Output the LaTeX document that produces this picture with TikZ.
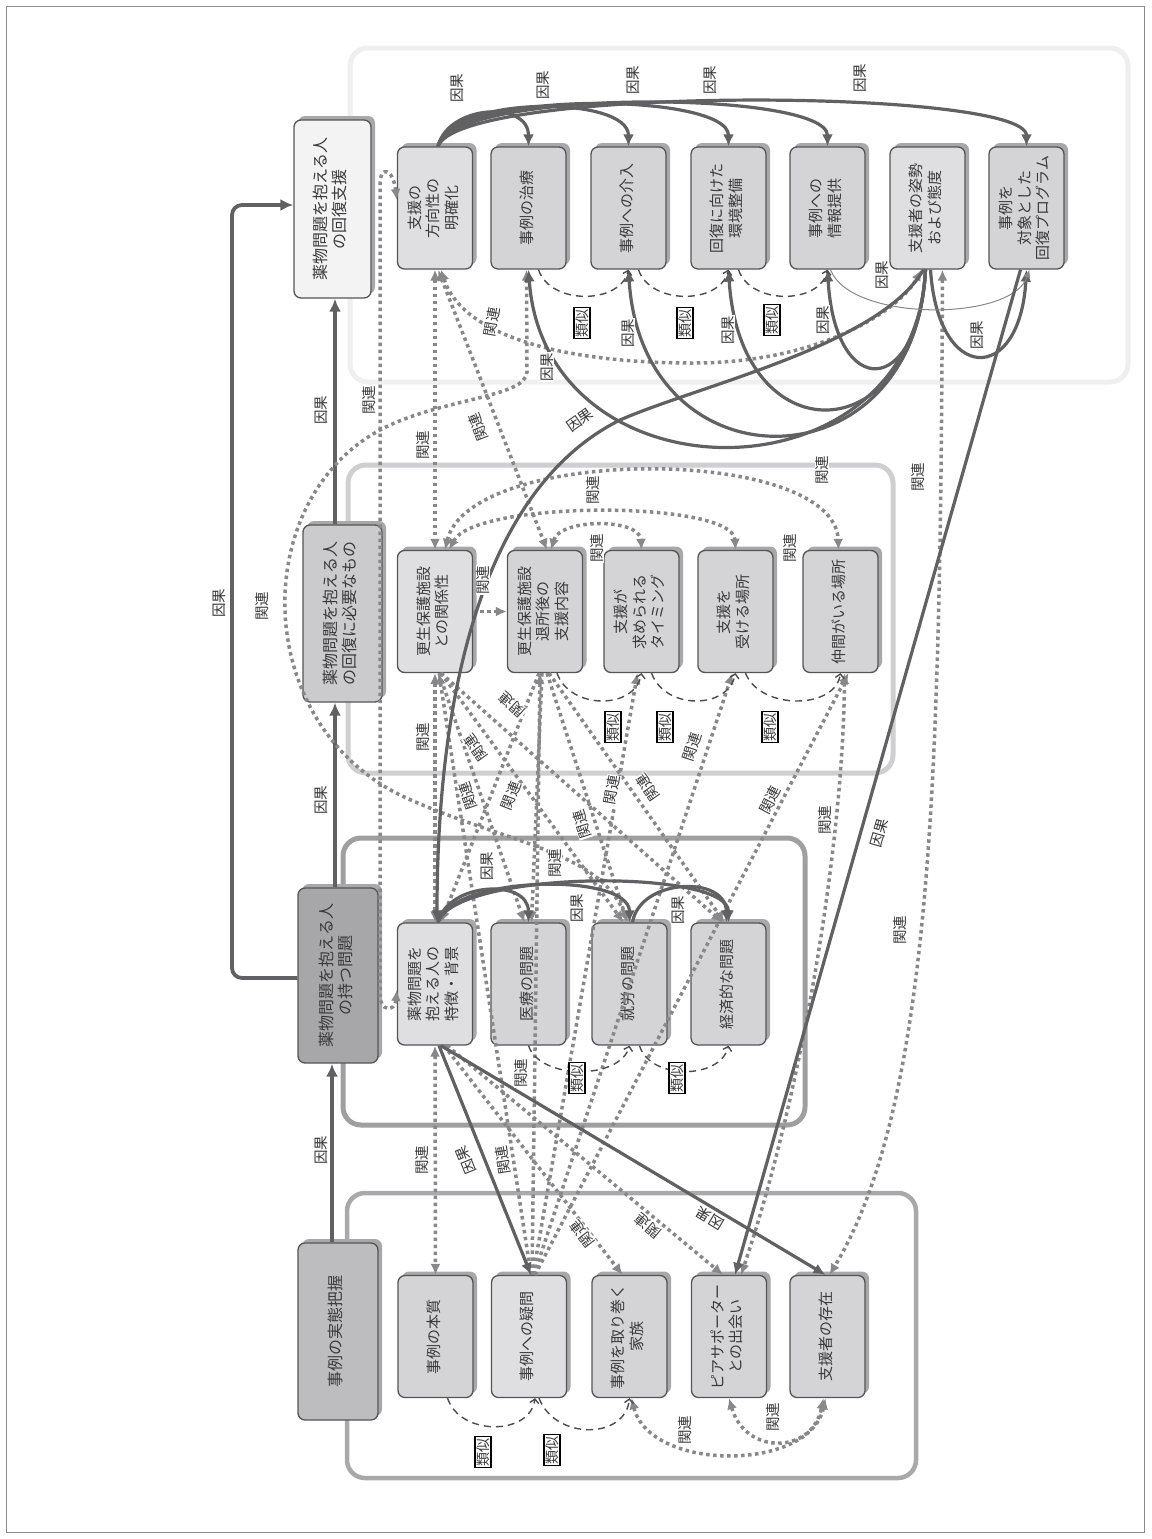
\documentclass[tikz,border=0pt]{standalone}
\usepackage{fontspec}
\setmainfont{Noto Sans CJK JP}
\usepackage{graphicx}
\usetikzlibrary{arrows.meta,shadows}
\definecolor{boxline}{HTML}{555557}
\definecolor{fillA}{HTML}{D4D4D6}
\definecolor{fillB}{HTML}{DFDFE1}
\definecolor{shade}{HTML}{A8A8AA}
\definecolor{txt}{HTML}{3A3A3C}
\definecolor{causec}{HTML}{616163}
\definecolor{relc}{HTML}{88888A}
\definecolor{simc}{HTML}{4C4C4E}
\definecolor{gonec}{HTML}{A9A9AB}
\definecolor{gtwoc}{HTML}{9F9FA1}
\definecolor{gthreec}{HTML}{CFCFD1}
\definecolor{gfourc}{HTML}{EFEFF0}
\definecolor{monef}{HTML}{BDBDBF}
\definecolor{mtwof}{HTML}{A7A7A9}
\definecolor{mthreef}{HTML}{CBCBCD}
\definecolor{mfourf}{HTML}{F3F3F3}
\definecolor{framec}{HTML}{8A8A8A}
\newcommand{\vt}[1]{\rotatebox{90}{\begin{tabular}{@{}c@{}}#1\end{tabular}}}
\begin{document}
\begin{tikzpicture}[x=1pt,y=1pt,
 box/.style={draw=boxline,line width=1.3pt,rounded corners=7pt,fill=fillA,minimum width=75pt,minimum height=122pt,inner sep=0pt,text=txt,font=\fontsize{15}{18.5}\selectfont,drop shadow={shadow xshift=4pt,shadow yshift=4pt,opacity=1,fill=shade}},
 mbox/.style={box,minimum width=80pt,minimum height=177pt,font=\fontsize{16}{19}\selectfont},
 lab/.style={font=\fontsize{14.5}{15}\selectfont,text=txt,inner sep=0.6pt,fill=white},
 labv/.style={lab,rotate=90},
 simlab/.style={draw=black,line width=1.2pt,fill=white,inner sep=1.6pt,font=\fontsize{14}{14}\selectfont,text=txt,rotate=90},
 cause/.style={draw=causec,line width=3.2pt,-{Latex[length=12pt,width=11pt]}},
 thincause/.style={draw=causec!75,line width=1pt,-{Latex[length=8pt,width=7pt]}},
 mainarrow/.style={draw=causec,line width=3.8pt,-{Latex[length=13pt,width=12pt]}},
 rel/.style={draw=relc,line width=3.5pt,dash pattern=on 3.5pt off 3.5pt,{Latex[length=11pt,width=10pt]}-{Latex[length=11pt,width=10pt]}},
 relend/.style={draw=relc,line width=3.5pt,dash pattern=on 3.5pt off 3.5pt,-{Latex[length=11pt,width=10pt]}},
 simarc/.style={draw=simc,line width=1.4pt,dash pattern=on 7pt off 5pt,-{Straight Barb[length=4pt,width=9pt]}},
 grp/.style={rounded corners=18pt,line width=5pt}
]
\useasboundingbox (0,0) rectangle (1151,-1539);
\fill[white] (0,0) rectangle (1151,-1539);
\draw[framec,line width=0.8pt] (6.5,-6.5) rectangle (1144.5,-1532.5);

% group frames
\draw[grp,gfourc] (350,-48) rectangle (1128,-382);
\draw[grp,gthreec] (348,-465) rectangle (893,-773);
\draw[grp,gtwoc] (343,-838) rectangle (805,-1125);
\draw[grp,gonec,line width=4.5pt] (347,-1193) rectangle (916,-1478);

% main boxes
\node[mbox,fill=monef] (M1) at (338,-1331.5) {\vt{事例の実態把握}};
\node[mbox,fill=mtwof,minimum height=175pt] (M2) at (338,-975.5) {\vt{薬物問題を抱える人\\の持つ問題}};
\node[mbox,fill=mthreef,minimum width=79pt] (M3) at (342.5,-613.5) {\vt{薬物問題を抱える人\\の回復に必要なもの}};
\node[mbox,fill=mfourf,minimum width=77pt,minimum height=178pt] (M4) at (332.5,-209) {\vt{薬物問題を抱える人\\の回復支援}};

% group 1
\node[box] (a1) at (435.5,-1336.5) {\vt{事例の本質}};
\node[box,fill=fillB] (a2) at (529,-1336.5) {\vt{事例への疑問}};
\node[box] (a3) at (629.5,-1336.5) {\vt{事例を取り巻く\\家族}};
\node[box] (a4) at (729,-1336.5) {\vt{ピアサポーター\\との出会い}};
\node[box] (a5) at (827.5,-1336.5) {\vt{支援者の存在}};
% group 2
\node[box,fill=fillB] (b1) at (435,-984) {\vt{薬物問題を\\抱える人の\\特徴・背景}};
\node[box] (b2) at (528.5,-984) {\vt{医療の問題}};
\node[box] (b3) at (629.5,-984) {\vt{就労の問題}};
\node[box] (b4) at (728.5,-984) {\vt{経済的な問題}};
% group 3
\node[box,fill=fillB] (c1) at (435,-611.5) {\vt{更生保護施設\\との関係性}};
\node[box] (c2) at (545,-611.5) {\vt{更生保護施設\\退所後の\\支援内容}};
\node[box] (c3) at (641.5,-611.5) {\vt{支援が\\求められる\\タイミング}};
\node[box] (c4) at (735.5,-611.5) {\vt{支援を\\受ける場所}};
\node[box] (c5) at (840.5,-611.5) {\vt{仲間がいる場所}};
% group 4
\node[box,fill=fillB] (d1) at (435,-208) {\vt{支援の\\方向性の\\明確化}};
\node[box] (d2) at (528.5,-208) {\vt{事例の治療}};
\node[box] (d3) at (628.5,-208) {\vt{事例への介入}};
\node[box] (d4) at (728.5,-208) {\vt{回復に向けた\\環境整備}};
\node[box] (d5) at (827.5,-208) {\vt{事例への\\情報提供}};
\node[box,fill=fillB] (d6) at (927.5,-208) {\vt{支援者の姿勢\\および態度}};
\node[box] (d7) at (1026.5,-208) {\vt{事例を\\対象とした\\回復プログラム}};

% main arrows
\draw[mainarrow] ([xshift=-6]M1.north) -- ([xshift=-6]M2.south);
\draw[mainarrow] ([xshift=-3]M2.north) -- ([xshift=-7.5]M3.south);
\draw[mainarrow] ([xshift=-7.5]M3.north) -- ([xshift=2.5]M4.south);
\draw[mainarrow,rounded corners=10pt] ([yshift=-2.5]M2.west) -- (232,-978) -- (232,-205) -- ([yshift=4]M4.west);

% 関連 (dotted)
\draw[rel] (d1.south) -- (c1.north);
\draw[rel] ([xshift=3]d1.south) -- ([xshift=2]c2.north);
\draw[rel] ([xshift=6]d1.south) .. controls (462,-335) and (560,-363) .. (693,-363) .. controls (820,-363) and (900,-310) .. ([xshift=-6]d6.south);
\draw[rel] ([xshift=-2]d2.south) -- (527,-372) .. controls (526,-398) and (440,-398) .. (380,-430) .. controls (250,-500) and (250,-720) .. (400,-795) .. controls (500,-842) and (600,-850) .. ([xshift=-2]b3.north);
\draw[rel] ([yshift=-6]b1.west) .. controls (395,-1012) and (380,-1012) .. (380,-995) -- (380,-185) .. controls (380,-165) and (393,-168) .. ([yshift=8]d1.west);
\draw[rel] ([xshift=15]d6.south) .. controls (940,-750) and (935,-1100) .. ([xshift=2]a5.north);
\draw[rel] (c1.south) -- (b1.north);
\draw[rel] (b1.south) -- (a1.north);
\draw[relend] ([xshift=9]b1.south) -- ([xshift=-7]a3.north);
\draw[relend] ([xshift=12]b1.south) -- ([xshift=-6]a4.north);
\draw[rel] ([xshift=2]a3.south) .. controls (650,-1472) and (810,-1472) .. ([xshift=-2]a5.south);
\draw[rel] (a4.south) .. controls (745,-1455) and (812,-1455) .. ([xshift=-4]a5.south);
\draw[relend] ([xshift=2]a2.north) -- ([xshift=4]c1.south);
\draw[relend] ([xshift=3]a2.north) -- ([xshift=-5]c2.south);
\draw[relend] ([xshift=4]a2.north) -- ([xshift=-4]c3.south);
\draw[relend] ([xshift=5]a2.north) -- ([xshift=-3]c4.south);
\draw[relend] ([xshift=6]a2.north) -- ([xshift=8]c5.south);
\draw[rel] ([xshift=4]c5.south) .. controls (843,-850) and (800,-1100) .. ([xshift=12]a4.north);
\draw[relend] ([xshift=6]c1.south) -- ([xshift=-6]b3.north);
\draw[relend] ([xshift=6]c1.south) -- ([xshift=-6]b4.north);
\draw[relend] ([xshift=4]c1.south) -- ([xshift=-4]b2.north);
\draw[relend] ([xshift=-6]c2.south) -- ([xshift=6]b1.north);
\draw[relend] ([xshift=-3]c2.south) -- ([xshift=3]b2.north);
\draw[relend] ([xshift=2]c2.south) -- ([xshift=-2]b3.north);
\draw[relend] ([xshift=4]c2.south) -- ([xshift=-4]b4.north);
\draw[relend] (c1.east) -- (c2.west);
\draw[rel] ([xshift=10]c1.north) .. controls (470,-445) and (835,-445) .. ([xshift=-2]c5.north);
\draw[rel] ([xshift=14]c1.north) .. controls (475,-500) and (733,-500) .. (c4.north);
\draw[rel] ([xshift=6]c2.north) .. controls (560,-518) and (640,-518) .. (c3.north);

% 因果 (solid)
\draw[cause] ([xshift=3]d1.north) .. controls (448,-105) and (528.5,-100) .. (d2.north);
\draw[cause] ([xshift=3]d1.north) .. controls (450,-95) and (628.5,-95) .. (d3.north);
\draw[cause] ([xshift=3]d1.north) .. controls (452,-90) and (728.5,-92) .. (d4.north);
\draw[cause] ([xshift=3]d1.north) .. controls (455,-88) and (827.5,-90) .. (d5.north);
\draw[cause] ([xshift=3]d1.north) .. controls (460,-85) and (1026.5,-88) .. (d7.north);
\draw[cause] ([xshift=-2]d6.south) .. controls (915,-505) and (545,-505) .. (d2.south);
\draw[cause] ([xshift=-2]d6.south) .. controls (915,-490) and (642,-490) .. (d3.south);
\draw[cause] ([xshift=-2]d6.south) .. controls (915,-455) and (740,-455) .. (d4.south);
\draw[cause] ([xshift=-2]d6.south) .. controls (918,-400) and (835,-400) .. (d5.south);
\draw[cause] ([xshift=3]d6.south) .. controls (938,-385) and (1020,-385) .. (d7.south);
\draw[thincause] ([xshift=3]d5.south) .. controls (850,-322) and (1012,-322) .. ([xshift=3]d7.south);
\draw[cause] ([xshift=-4]d6.south) .. controls (880,-345) and (700,-385) .. (620,-420) .. controls (480,-490) and (437,-700) .. ([xshift=2]b1.north);
\draw[cause] ([xshift=-6]d7.south) -- ([xshift=6]a4.north);
\draw[cause] ([xshift=3]b1.north) .. controls (448,-882) and (528.5,-878) .. (b2.north);
\draw[cause] ([xshift=3]b1.north) .. controls (452,-875) and (629.5,-872) .. (b3.north);
\draw[cause] ([xshift=3]b1.north) .. controls (455,-870) and (728.5,-868) .. (b4.north);
\draw[cause] ([xshift=3]b3.north) .. controls (640,-878) and (726,-875) .. ([xshift=-2]b4.north);
\draw[cause] ([xshift=4]b1.south) -- ([xshift=2]a2.north);
\draw[cause] ([xshift=6]b1.south) -- ([xshift=-2]a5.north);

% 類似 (dashed)
\draw[simarc] ([xshift=10]d2.south) .. controls (550,-305) and (620,-305) .. (d3.south);
\draw[simarc] ([xshift=10]d3.south) .. controls (650,-305) and (720,-305) .. (d4.south);
\draw[simarc] ([xshift=10]d4.south) .. controls (750,-305) and (820,-305) .. (d5.south);
\draw[simarc] ([xshift=12]c2.south) .. controls (570,-710) and (635,-710) .. (c3.south);
\draw[simarc] ([xshift=10]c3.south) .. controls (665,-710) and (728,-710) .. (c4.south);
\draw[simarc] ([xshift=10]c4.south) .. controls (760,-710) and (835,-710) .. (c5.south);
\draw[simarc] (b2.south) .. controls (540,-1080) and (620,-1080) .. (b3.south);
\draw[simarc] ([xshift=10]b3.south) .. controls (650,-1080) and (720,-1080) .. (b4.south);
\draw[simarc] ([xshift=12]a1.south) .. controls (460,-1436) and (530,-1436) .. ([xshift=6]a2.south);
\draw[simarc] ([xshift=10]a2.south) .. controls (555,-1440) and (625,-1440) .. (a3.south);

% labels 因果
\node[labv] (k1) at (321,-1150) {因果};
\node[labv] (k2) at (321,-800) {因果};
\node[labv] (k3) at (321,-410) {因果};
\node[labv] (k4) at (219,-603) {因果};
\node[labv] (k5) at (457,-88) {因果};
\node[labv] (k6) at (543,-85) {因果};
\node[labv] (k7) at (633,-80) {因果};
\node[labv] (k8) at (710,-80) {因果};
\node[labv] (k9) at (860,-78) {因果};
\node[labv] (k10) at (547,-367) {因果};
\node[labv] (k11) at (628,-333) {因果};
\node[labv] (k12) at (728,-330) {因果};
\node[labv] (k13) at (823,-320) {因果};
\node[labv] (k14) at (977,-335) {因果};
\node[labv] (k15) at (882,-275) {因果};
\node[labv] (k16) at (487,-866) {因果};
\node[labv] (k17) at (577,-908) {因果};
\node[labv] (k18) at (678,-910) {因果};
\node[lab,rotate=35] (k19) at (580,-420) {因果};
\node[lab,rotate=74] (k20) at (880,-833) {因果};
\node[lab,rotate=112] (k21) at (466,-1160) {因果};
\node[lab,rotate=149] (k22) at (710,-1218) {因果};

% labels 関連
\node[labv] (r1) at (262,-606) {関連};
\node[labv] (r2) at (369,-400) {関連};
\node[labv] (r3) at (423,-445) {関連};
\node[labv] (r4) at (918,-477) {関連};
\node[labv] (r5) at (900,-930) {関連};
\node[labv] (r6) at (423,-737) {関連};
\node[labv] (r7) at (422,-1160) {関連};
\node[labv] (r8) at (685,-1430) {関連};
\node[labv] (r9) at (773,-1417) {関連};
\node[labv] (r10) at (521,-1073) {関連};
\node[labv] (r11) at (555,-863) {関連};
\node[labv] (r12) at (825,-820) {関連};
\node[labv] (r13) at (483,-580) {関連};
\node[labv] (r14) at (593,-490) {関連};
\node[labv] (r15) at (822,-470) {関連};
\node[labv] (r16) at (790,-548) {関連};
\node[labv] (r17) at (597,-548) {関連};
\node[lab,rotate=80] (r18) at (492,-322) {関連};
\node[lab,rotate=111] (r19) at (478,-427) {関連};
\node[lab,rotate=128] (r20) at (582,-1234) {関連};
\node[lab,rotate=140] (r21) at (648,-1226) {関連};
\node[lab,rotate=99] (r22) at (503,-1160) {関連};
\node[lab,rotate=80] (r23) at (612,-790) {関連};
\node[lab,rotate=72] (r24) at (692,-747) {関連};
\node[lab,rotate=62] (r25) at (770,-800) {関連};
\node[lab,rotate=126] (r26) at (476,-748) {関連};
\node[lab,rotate=138] (r27) at (512,-705) {関連};
\node[lab,rotate=109] (r28) at (468,-796) {関連};
\node[lab,rotate=69] (r29) at (511,-796) {関連};
\node[lab,rotate=108] (r30) at (582,-824) {関連};
\node[lab,rotate=125] (r31) at (648,-788) {関連};

% labels 類似
\node[simlab] (s1) at (582,-323) {類似};
\node[simlab] (s2) at (685,-323) {類似};
\node[simlab] (s3) at (772,-320) {類似};
\node[simlab] (s4) at (613,-727) {類似};
\node[simlab] (s5) at (665,-727) {類似};
\node[simlab] (s6) at (770,-727) {類似};
\node[simlab] (s7) at (577,-1078) {類似};
\node[simlab] (s8) at (677,-1078) {類似};
\node[simlab] (s9) at (483,-1452) {類似};
\node[simlab] (s10) at (552,-1450) {類似};
\end{tikzpicture}
\end{document}
